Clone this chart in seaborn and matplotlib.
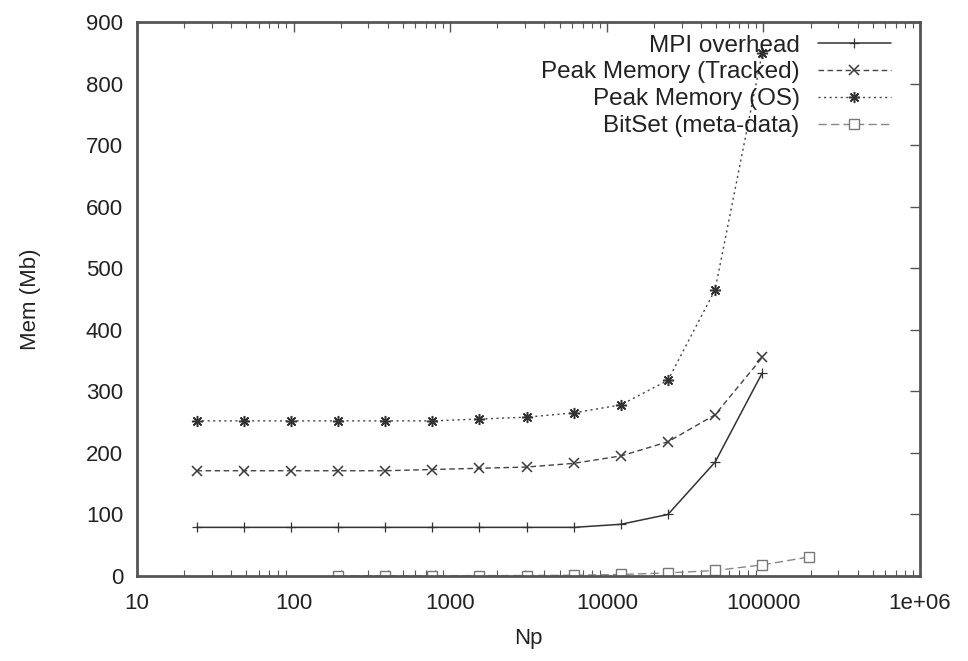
import numpy as np
import pandas as pd
import matplotlib
matplotlib.use("Agg")
import matplotlib.pyplot as plt
import matplotlib.ticker as mticker
import seaborn as sns

# ---- data ----
np_main = [24, 48, 96, 192, 384, 768, 1536, 3072, 6144, 12288, 24576, 49152, 98304]
mpi_overhead = [79, 79, 79, 79, 79, 79, 79, 79, 79, 84, 100, 185, 330]
peak_tracked = [171, 171, 171, 171, 171, 173, 175, 177, 183, 195, 218, 262, 355]
peak_os = [252, 252, 252, 252, 252, 252, 255, 258, 265, 278, 318, 465, 850]
np_bitset = [192, 384, 768, 1536, 3072, 6144, 12288, 24576, 49152, 98304, 196608]
bitset = [0.5, 0.5, 0.5, 0.6, 0.8, 1.2, 2.5, 5, 9, 18, 31]

xtick_vals = [10, 100, 1000, 10000, 100000, 1000000]
xtick_labels = ["10", "100", "1000", "10000", "100000", "1e+06"]
ytick_vals = [0, 100, 200, 300, 400, 500, 600, 700, 800, 900]

sns.set_theme(style="white")
plt.rcParams['font.family'] = ['Liberation Sans', 'DejaVu Sans']

fig = plt.figure(figsize=(9.68, 6.61), dpi=100)
ax = fig.add_axes([137/968, 85/661, 783/968, 554/661])

sns.lineplot(x=np_main, y=mpi_overhead, ax=ax, color="#333333", linewidth=1.1,
             marker="+", markersize=7, markeredgewidth=0.9, markeredgecolor="#333333",
             linestyle="-", label="MPI overhead", estimator=None)
sns.lineplot(x=np_main, y=peak_tracked, ax=ax, color="#444444", linewidth=1.0,
             marker="x", markersize=6.5, markeredgewidth=1.1, markeredgecolor="#3a3a3a",
             linestyle=(0, (4, 2.5)), label="Peak Memory (Tracked)", estimator=None)
sns.lineplot(x=np_main, y=peak_os, ax=ax, color="#444444", linewidth=1.0,
             marker=(8, 2, 0), markersize=8, markeredgewidth=1.1, markeredgecolor="#333333",
             linestyle=(0, (1.5, 2.5)), label="Peak Memory (OS)", estimator=None)
sns.lineplot(x=np_bitset, y=bitset, ax=ax, color="#888888", linewidth=1.0,
             marker="s", markersize=7, markerfacecolor="white", markeredgecolor="#777777",
             markeredgewidth=1.0, linestyle=(0, (6, 3)),
             label="BitSet (meta-data)", estimator=None)

ax.set_xscale("log")
ax.set_xlim(10, 1e6)
ax.set_ylim(0, 900)
ax.set_xticks(xtick_vals)
ax.set_xticklabels(xtick_labels)
ax.xaxis.set_minor_locator(mticker.LogLocator(base=10, subs=np.arange(2, 10)))
ax.xaxis.set_minor_formatter(mticker.NullFormatter())
ax.set_yticks(ytick_vals)

ax.tick_params(axis="both", which="major", direction="in", length=7, width=1.0,
               color="#555555", top=True, right=True, labelsize=16, labelcolor="#222222")
ax.tick_params(axis="y", which="major", pad=10)
ax.tick_params(axis="x", which="major", pad=12)
ax.tick_params(axis="x", which="minor", direction="in", length=4, width=0.8,
               color="#555555", top=True, bottom=True)
for sp in ax.spines.values():
    sp.set_color("#555555")
    sp.set_linewidth(2.0)

ax.set_xlabel("Np", fontsize=16, color="#222222", labelpad=10)
ax.set_ylabel("Mem (Mb)", fontsize=16, color="#222222", labelpad=32)

leg = ax.legend(loc="upper right", bbox_to_anchor=(0.975, 0.995), frameon=False,
                markerfirst=False, fontsize=17.5, handlelength=3.0, handletextpad=0.75,
                labelspacing=0.2, borderaxespad=0.0)
for t in leg.get_texts():
    t.set_color("#222222")

fig.savefig("out.png", dpi=100)
